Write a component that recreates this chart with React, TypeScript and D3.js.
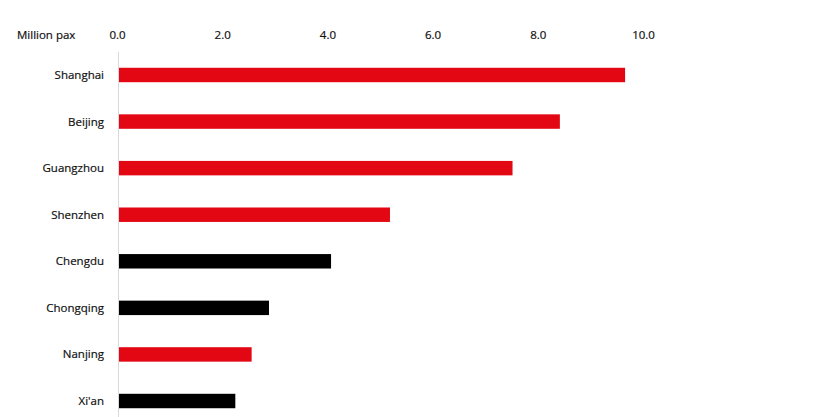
import React from "react";
import * as d3 from "d3";

const cities = ["Shanghai", "Beijing", "Guangzhou", "Shenzhen", "Chengdu", "Chongqing", "Nanjing", "Xi'an"];
const values = [9.65, 8.41, 7.51, 5.18, 4.06, 2.88, 2.55, 2.24];
const highlight = [true, true, true, true, false, false, true, false];
const ticks = [0, 2, 4, 6, 8, 10];
const unitLabel = "Million pax";

const W = 833;
const H = 417;

export default function App() {
  const x = d3.scaleLinear().domain([0, 10]).range([117.5, 643.5]);
  const y = d3
    .scaleBand<string>()
    .domain(cities)
    .range([51.7, 424.3])
    .paddingInner(0.69)
    .paddingOuter(0.345);
  const font = "'Open Sans', 'Noto Sans', sans-serif";
  return (
    <svg
      width={W}
      height={H}
      style={{ position: "absolute", left: 0, top: 0, background: "#fff" }}
      fontFamily={font}
    >
      <text x={17} y={35} dy="0.35em" fontSize={11.5} fill="#111" stroke="#111" strokeWidth={0.2}>
        {unitLabel}
      </text>
      {ticks.map((t) => (
        <text key={t} x={x(t)} y={35} dy="0.35em" fontSize={11.5} fill="#111" stroke="#111" strokeWidth={0.2} textAnchor="middle">
          {d3.format(".1f")(t)}
        </text>
      ))}
      <line x1={118.5} x2={118.5} y1={52} y2={H} stroke="#d9d9d9" strokeWidth={1} />
      {cities.map((c, i) => (
        <g key={c}>
          <rect
            x={x(0) + 1.5}
            y={y(c)!}
            width={x(values[i]) - x(0) - 1.5}
            height={y.bandwidth()}
            fill={highlight[i] ? "#e30613" : "#000"}
          />
          <text
            x={104}
            y={y(c)! + y.bandwidth() / 2}
            dy="0.35em"
            textAnchor="end"
            fontSize={11.5}
            fill="#111"
            stroke="#111"
            strokeWidth={0.2}
          >
            {c}
          </text>
        </g>
      ))}
    </svg>
  );
}
